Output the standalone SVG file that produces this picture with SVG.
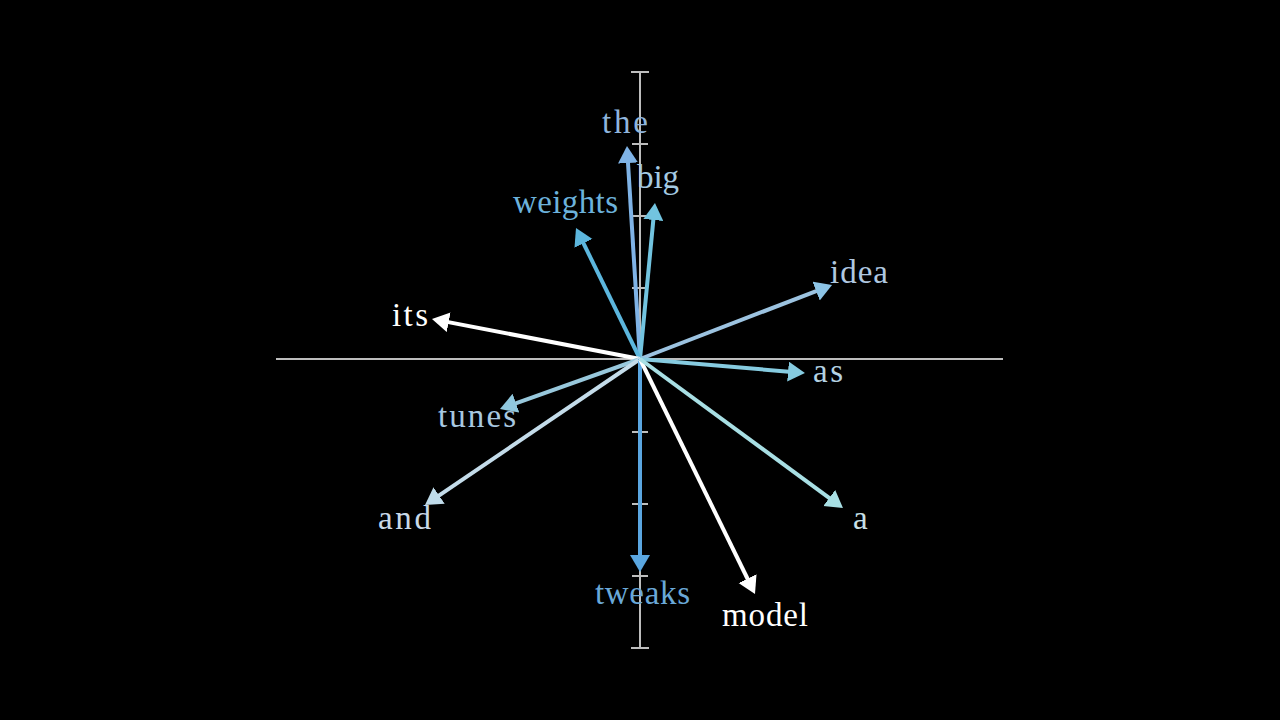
<svg xmlns="http://www.w3.org/2000/svg" width="1280" height="720" viewBox="0 0 1280 720">
<style>
.ax{stroke:#bdbdbd;stroke-width:2;fill:none}
.v{stroke-width:4;fill:none}
.lbl{font-family:"Liberation Serif","Times New Roman",serif;font-size:33px}
</style>
<defs>
<marker id="m-the" markerUnits="userSpaceOnUse" markerWidth="20" markerHeight="22" refX="7" refY="10" orient="auto"><path d="M0,0 L17,10 L0,20 z" fill="#7fb3e6"/></marker>
<marker id="m-big" markerUnits="userSpaceOnUse" markerWidth="20" markerHeight="22" refX="7" refY="10" orient="auto"><path d="M0,0 L17,10 L0,20 z" fill="#72c4e0"/></marker>
<marker id="m-weights" markerUnits="userSpaceOnUse" markerWidth="20" markerHeight="22" refX="7" refY="10" orient="auto"><path d="M0,0 L17,10 L0,20 z" fill="#5cb6dd"/></marker>
<marker id="m-idea" markerUnits="userSpaceOnUse" markerWidth="20" markerHeight="22" refX="7" refY="10" orient="auto"><path d="M0,0 L17,10 L0,20 z" fill="#8cc4e6"/></marker>
<marker id="m-white" markerUnits="userSpaceOnUse" markerWidth="20" markerHeight="22" refX="7" refY="10" orient="auto"><path d="M0,0 L17,10 L0,20 z" fill="#ffffff"/></marker>
<marker id="m-as" markerUnits="userSpaceOnUse" markerWidth="20" markerHeight="22" refX="7" refY="10" orient="auto"><path d="M0,0 L17,10 L0,20 z" fill="#86cbe0"/></marker>
<marker id="m-tunes" markerUnits="userSpaceOnUse" markerWidth="20" markerHeight="22" refX="7" refY="10" orient="auto"><path d="M0,0 L17,10 L0,20 z" fill="#90c8de"/></marker>
<marker id="m-and" markerUnits="userSpaceOnUse" markerWidth="20" markerHeight="22" refX="7" refY="10" orient="auto"><path d="M0,0 L17,10 L0,20 z" fill="#c0dcea"/></marker>
<marker id="m-tweaks" markerUnits="userSpaceOnUse" markerWidth="20" markerHeight="22" refX="7" refY="10" orient="auto"><path d="M0,0 L17,10 L0,20 z" fill="#5aa6e0"/></marker>
<marker id="m-a" markerUnits="userSpaceOnUse" markerWidth="20" markerHeight="22" refX="7" refY="10" orient="auto"><path d="M0,0 L17,10 L0,20 z" fill="#a8dfe4"/></marker>
</defs>
<rect width="1280" height="720" fill="#000000"/>
<g id="axes">
<line class="ax" x1="276" y1="359" x2="1003" y2="359"/>
<line class="ax" x1="640" y1="72" x2="640" y2="648"/>
<line class="ax" x1="631" y1="72" x2="649" y2="72"/>
<line class="ax" x1="631" y1="648" x2="649" y2="648"/>
<line class="ax" x1="632" y1="144" x2="648" y2="144"/>
<line class="ax" x1="632" y1="216" x2="648" y2="216"/>
<line class="ax" x1="632" y1="288" x2="648" y2="288"/>
<line class="ax" x1="632" y1="432" x2="648" y2="432"/>
<line class="ax" x1="632" y1="504" x2="648" y2="504"/>
<line class="ax" x1="632" y1="576" x2="648" y2="576"/>
</g>
<g id="connectors">
<line class="v" x1="640" y1="359" x2="627.6" y2="156" stroke="#7fb3e6" marker-end="url(#m-the)"/>
<line class="v" x1="640" y1="359" x2="654" y2="213" stroke="#72c4e0" marker-end="url(#m-big)"/>
<line class="v" x1="640" y1="359" x2="580.4" y2="237" stroke="#5cb6dd" marker-end="url(#m-weights)"/>
<line class="v" x1="640" y1="359" x2="822.7" y2="288.6" stroke="#9cc3e0" marker-end="url(#m-idea)"/>
<line class="v" x1="640" y1="359" x2="441.8" y2="320.9" stroke="#ffffff" marker-end="url(#m-white)"/>
<line class="v" x1="640" y1="359" x2="795" y2="372.2" stroke="#86cbe0" marker-end="url(#m-as)"/>
<line class="v" x1="640" y1="359" x2="509.4" y2="405.6" stroke="#98c8dc" marker-end="url(#m-tunes)"/>
<line class="v" x1="640" y1="359" x2="433.3" y2="499.4" stroke="#c4dcea" marker-end="url(#m-and)"/>
<line class="v" x1="640" y1="359" x2="640" y2="562" stroke="#5aa6e0" marker-end="url(#m-tweaks)"/>
<line class="v" x1="640" y1="359" x2="750.6" y2="585" stroke="#ffffff" marker-end="url(#m-white)"/>
<line class="v" x1="640" y1="359" x2="834.9" y2="502.1" stroke="#a8dfe4" marker-end="url(#m-a)"/>
</g>
<g id="the"><text class="lbl" x="602" y="133" textLength="46" fill="#8fb5dd">the</text></g>
<g id="big"><text class="lbl" x="637" y="188" textLength="42" fill="#a4cae2">big</text></g>
<g id="weights"><text class="lbl" x="513" y="213" textLength="105" fill="#6cb2dc">weights</text></g>
<g id="idea"><text class="lbl" x="830" y="283" textLength="58" fill="#b0c8e0">idea</text></g>
<g id="its"><text class="lbl" x="392" y="326" textLength="36" fill="#ffffff">its</text></g>
<g id="as"><text class="lbl" x="813" y="382" textLength="30" fill="#b4d2e2">as</text></g>
<g id="tunes"><text class="lbl" x="438" y="427" textLength="78" fill="#a8c8e0">tunes</text></g>
<g id="and"><text class="lbl" x="378" y="529" textLength="53" fill="#c8d8e8">and</text></g>
<g id="a"><text class="lbl" x="853" y="529" textLength="17" fill="#c8e0e8">a</text></g>
<g id="tweaks"><text class="lbl" x="595" y="604" textLength="95" fill="#6aa8d8">tweaks</text></g>
<g id="model"><text class="lbl" x="722" y="626" textLength="86" fill="#ffffff">model</text></g>
</svg>
